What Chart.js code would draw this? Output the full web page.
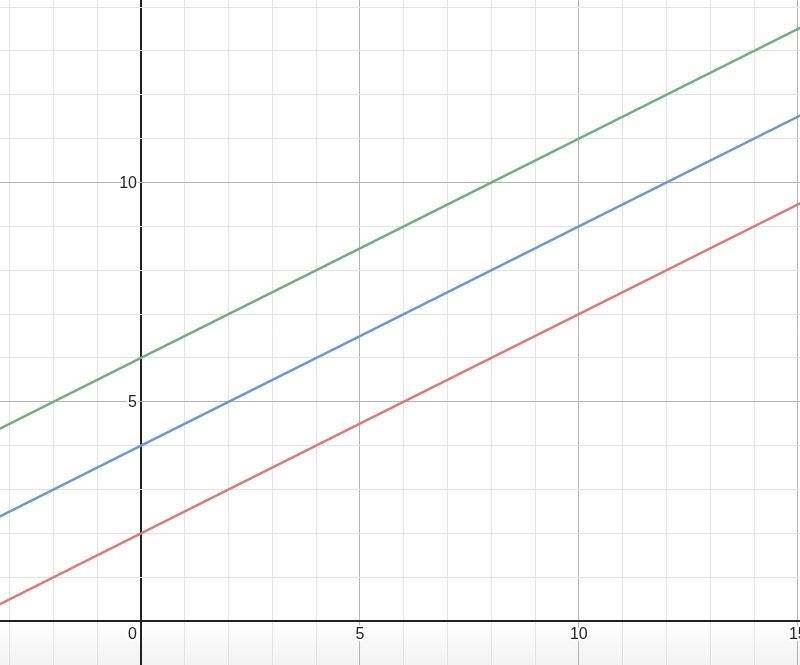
<!DOCTYPE html>
<html>
<head>
<meta charset="utf-8">
<script src="https://cdn.jsdelivr.net/npm/chart.js@4"></script>
<style>
  html, body { margin: 0; padding: 0; background: #fff; }
  #wrap { width: 800px; height: 665px; }
</style>
</head>
<body>
<div id="wrap"><canvas id="graph"></canvas></div>
<script>
// values
var xs = [-4, 0, 5, 10, 16];
var redLine = [0, 2, 4.5, 7, 10];
var blueLine = [2, 4, 6.5, 9, 12];
var greenLine = [4, 6, 8.5, 11, 14];
var xTickLabels = [0, 5, 10, 15];
var yTickLabels = [5, 10];

function pts(ys) {
    return xs.map(function(x, i) { return { x: x, y: ys[i] }; });
}

function gridColor(ctx) {
    var v = ctx.tick ? ctx.tick.value : null;
    if (v === 0) return '#222';
    if (v % 5 === 0) return '#b4b4b4';
    return '#e4e4e4';
}
function gridWidth(ctx) {
    var v = ctx.tick ? ctx.tick.value : null;
    if (v === 0) return 2;
    return 1;
}

// white page + faint shade along the bottom
var background = {
    id: 'background',
    beforeDraw: function(chart) {
        var c = chart.ctx;
        c.save();
        c.fillStyle = '#fff';
        c.fillRect(0, 0, chart.width, chart.height);
        var g = c.createLinearGradient(0, chart.height - 45, 0, chart.height);
        g.addColorStop(0, 'rgba(0,0,0,0)');
        g.addColorStop(1, 'rgba(0,0,0,0.05)');
        c.fillStyle = g;
        c.fillRect(0, chart.height - 45, chart.width, 45);
        c.restore();
    }
};

// desmos style labels next to the axes
var axisLabels = {
    id: 'axisLabels',
    afterDatasetsDraw: function(chart) {
        var c = chart.ctx;
        var sx = chart.scales.x, sy = chart.scales.y;
        var ox = sx.getPixelForValue(0), oy = sy.getPixelForValue(0);
        c.save();
        c.font = '16px "Liberation Sans", Arial, sans-serif';
        c.lineWidth = 4;
        c.strokeStyle = '#fff';
        c.fillStyle = '#222';
        c.lineJoin = 'round';
        c.textBaseline = 'top';
        xTickLabels.forEach(function(v) {
            var px = sx.getPixelForValue(v);
            c.textAlign = v === 0 ? 'right' : 'center';
            if (v === 0) px = ox - 4;
            c.strokeText(String(v), px, oy + 5);
            c.fillText(String(v), px, oy + 5);
        });
        c.textBaseline = 'middle';
        c.textAlign = 'right';
        yTickLabels.forEach(function(v) {
            var py = sy.getPixelForValue(v);
            c.strokeText(String(v), ox - 4, py + 1);
            c.fillText(String(v), ox - 4, py + 1);
        });
        c.restore();
    }
};

var ctx = document.getElementById('graph').getContext('2d');
var graph = new Chart(ctx, {
    type: 'line',
    data: {
        datasets: [
            { data: pts(greenLine), borderColor: '#72ae7c', borderWidth: 2.5 },
            { data: pts(blueLine), borderColor: '#6b9ac9', borderWidth: 2.5 },
            { data: pts(redLine), borderColor: '#d77c79', borderWidth: 2.5 }
        ]
    },
    options: {
        responsive: true,
        maintainAspectRatio: false,
        animation: false,
        layout: { padding: 0 },
        elements: { point: { radius: 0 }, line: { tension: 0 } },
        plugins: { legend: { display: false }, tooltip: { enabled: false } },
        scales: {
            x: {
                type: 'linear',
                min: -3.22,
                max: 15.05,
                border: { display: false },
                ticks: { display: false, stepSize: 1, includeBounds: false },
                grid: { color: gridColor, lineWidth: gridWidth, drawTicks: false }
            },
            y: {
                type: 'linear',
                min: -1.0,
                max: 14.16,
                border: { display: false },
                ticks: { display: false, stepSize: 1, includeBounds: false },
                grid: { color: gridColor, lineWidth: gridWidth, drawTicks: false }
            }
        }
    },
    plugins: [background, axisLabels]
});
</script>
</body>
</html>
